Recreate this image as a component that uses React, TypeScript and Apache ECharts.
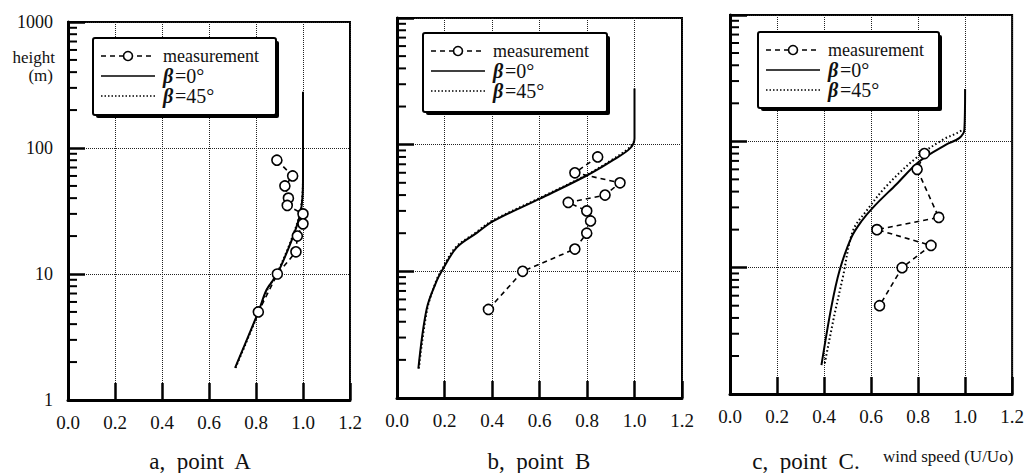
import React, { useEffect, useRef } from 'react';
import * as echarts from 'echarts';

// ---------------- data ----------------
// measured heights (m)
const heightsAB = [80, 60, 50, 40, 35, 30, 25, 20, 15, 10, 5];
const heightsC = [80, 60, 25, 20, 15, 10, 5];
// measured wind speed U/Uo
const measA = [0.889, 0.956, 0.923, 0.938, 0.933, 1.0, 1.0, 0.976, 0.97, 0.891, 0.81];
const measB = [0.845, 0.749, 0.939, 0.876, 0.721, 0.799, 0.815, 0.799, 0.749, 0.529, 0.385];
const measC = [0.827, 0.796, 0.888, 0.625, 0.855, 0.732, 0.636];

// computed profiles, beta = 0 deg
const beta0A_h = [1.8, 5, 7.5, 10, 18.6, 29.4, 41, 60, 100, 280];
const beta0A_u = [0.711, 0.81, 0.845, 0.89, 0.952, 0.987, 0.998, 1.0, 1.0, 1.0];
const beta0B_h = [1.71, 5.05, 8.4, 10, 15.4, 20.1, 24.9, 37.5, 57.1, 75.9, 93.5, 112, 277];
const beta0B_u = [0.09, 0.125, 0.167, 0.188, 0.251, 0.336, 0.405, 0.602, 0.799, 0.911, 0.981, 1.0, 1.0];
const beta0C_h = [1.69, 4.87, 9.5, 17.3, 23.4, 29.9, 45.6, 69.6, 94.2, 106, 124, 260];
const beta0C_u = [0.389, 0.431, 0.466, 0.516, 0.56, 0.608, 0.707, 0.806, 0.919, 0.975, 0.997, 1.0];

// computed profiles, beta = 45 deg
const beta45A_h = [1.8, 5, 7.5, 10, 18.6, 29.4, 41, 60, 100];
const beta45A_u = [0.713, 0.812, 0.848, 0.888, 0.95, 0.985, 0.997, 1.0, 1.0];
const beta45B_h = [1.71, 5, 8.4, 10, 15.4, 20.1, 24.9, 37.5, 57.1, 75.9, 93.5, 105];
const beta45B_u = [0.092, 0.127, 0.165, 0.185, 0.246, 0.33, 0.398, 0.595, 0.794, 0.905, 0.975, 0.995];
const beta45C_h = [1.75, 4.3, 8.4, 19.6, 28.1, 44.2, 73.9, 103, 116, 124];
const beta45C_u = [0.403, 0.445, 0.48, 0.523, 0.58, 0.665, 0.792, 0.905, 0.965, 0.99];

// axis tick values
const minorTickValues = [2, 3, 4, 5, 6, 7, 8, 9, 20, 30, 40, 50, 60, 70, 80, 90, 200, 300, 400, 500, 600, 700, 800, 900];

// texts
const legendLabels = ['measurement', 'β=0°', 'β=45°'];
const panelTitles = ['a,  point  A', 'b,  point  B', 'c,  point  C.'];
const yTitleLines = ['height', '(m)'];
const xTitle = 'wind speed (U/Uo)';

// ---------------- layout ----------------
const FONT = 'Liberation Serif';
const gridPos = [
  { left: 68, top: 22, width: 282, height: 378 },
  { left: 397, top: 18, width: 285, height: 380 },
  { left: 730, top: 15, width: 283, height: 379 },
];
const legendPos = [
  { x: 93, y: 38, w: 183, h: 77 },
  { x: 423, y: 33, w: 184, h: 79 },
  { x: 758, y: 32, w: 181, h: 76 },
];
const titleX = [200, 539, 806];

const zip = (u: number[], h: number[]) => u.map((v, i) => [v, h[i]]);

const panels = [
  { meas: zip(measA, heightsAB), b0: zip(beta0A_u, beta0A_h), b45: zip(beta45A_u, beta45A_h) },
  { meas: zip(measB, heightsAB), b0: zip(beta0B_u, beta0B_h), b45: zip(beta45B_u, beta45B_h) },
  { meas: zip(measC, heightsC), b0: zip(beta0C_u, beta0C_h), b45: zip(beta45C_u, beta45C_h) },
];

function buildOption() {
  const grid = gridPos.map((g) => ({
    ...g,
    show: true,
    borderColor: '#000',
    borderWidth: 2,
    backgroundColor: 'transparent',
  }));

  const xAxis = gridPos.map((_, i) => ({
    type: 'value',
    gridIndex: i,
    min: 0,
    max: 1.2,
    interval: 0.2,
    axisLine: { show: true, onZero: false, lineStyle: { color: '#000', width: 3 } },
    axisTick: { show: true, inside: true, length: 17, lineStyle: { color: '#000', width: 2.5 } },
    axisLabel: {
      formatter: (v: number) => v.toFixed(1),
      fontFamily: FONT,
      fontSize: 19,
      color: '#111',
      margin: 13,
      showMinLabel: true,
      showMaxLabel: true,
    },
    splitLine: { show: true, lineStyle: { color: '#222', type: 'dotted', width: 1 } },
  }));

  const yAxis = gridPos.map((_, i) => ({
    type: 'log',
    logBase: 10,
    gridIndex: i,
    min: 1,
    max: 1000,
    axisLine: { show: true, onZero: false, lineStyle: { color: '#000', width: 3 } },
    axisTick: { show: true, inside: true, length: 17, lineStyle: { color: '#000', width: 2.5 } },
    axisLabel: {
      show: i === 0,
      formatter: (v: number) => String(Math.round(v)),
      fontFamily: FONT,
      fontSize: 18,
      color: '#111',
      margin: 15,
    },
    splitLine: { show: true, lineStyle: { color: '#222', type: 'dotted', width: 1 } },
  }));

  const series: any[] = [];
  panels.forEach((p, i) => {
    series.push({
      type: 'custom',
      name: 'minorTicks' + i,
      xAxisIndex: i,
      yAxisIndex: i,
      silent: true,
      clip: false,
      data: minorTickValues.map((v) => [0, v]),
      encode: { x: 0, y: 1 },
      renderItem: (params: any, api: any) => {
        const pt = api.coord([api.value(0), api.value(1)]);
        return {
          type: 'line',
          shape: { x1: pt[0], y1: pt[1], x2: pt[0] + 9, y2: pt[1] },
          style: { stroke: '#000', lineWidth: 2 },
        };
      },
      z: 3,
    });
    series.push({
      type: 'line',
      name: 'β=45°',
      xAxisIndex: i,
      yAxisIndex: i,
      data: p.b45,
      symbol: 'none',
      smooth: 0.35,
      lineStyle: { color: '#000', width: 2, type: [1.5, 2.5] },
      z: 3,
    });
    series.push({
      type: 'line',
      name: 'β=0°',
      xAxisIndex: i,
      yAxisIndex: i,
      data: p.b0,
      symbol: 'none',
      smooth: 0.35,
      lineStyle: { color: '#000', width: 2 },
      z: 4,
    });
    series.push({
      type: 'line',
      name: 'measurement',
      xAxisIndex: i,
      yAxisIndex: i,
      data: p.meas,
      symbol: 'circle',
      symbolSize: 10,
      itemStyle: { color: '#fff', borderColor: '#000', borderWidth: 1.6 },
      lineStyle: { color: '#000', width: 1.6, type: [5, 4] },
      z: 5,
    });
  });

  const graphic: any[] = [];
  // legends
  legendPos.forEach((L) => {
    graphic.push({
      type: 'rect', z: 100,
      shape: { x: L.x + 3, y: L.y + 3, width: L.w, height: L.h, r: 2 },
      style: { fill: '#000' },
    });
    graphic.push({
      type: 'rect', z: 101,
      shape: { x: L.x, y: L.y, width: L.w, height: L.h, r: 2 },
      style: { fill: '#fff', stroke: '#000', lineWidth: 2 },
    });
    const rows = [L.y + 18, L.y + 38, L.y + 58];
    const x1 = L.x + 8;
    const x2 = L.x + 62;
    graphic.push({
      type: 'line', z: 102,
      shape: { x1, y1: rows[0], x2, y2: rows[0] },
      style: { stroke: '#000', lineWidth: 1.6, lineDash: [5, 4] },
    });
    graphic.push({
      type: 'circle', z: 103,
      shape: { cx: (x1 + x2) / 2, cy: rows[0], r: 4.5 },
      style: { fill: '#fff', stroke: '#000', lineWidth: 1.6 },
    });
    graphic.push({
      type: 'line', z: 102,
      shape: { x1, y1: rows[1], x2, y2: rows[1] },
      style: { stroke: '#000', lineWidth: 1.6 },
    });
    graphic.push({
      type: 'line', z: 102,
      shape: { x1, y1: rows[2], x2, y2: rows[2] },
      style: { stroke: '#000', lineWidth: 1.6, lineDash: [1.5, 2] },
    });
    legendLabels.forEach((t, k) => {
      if (k === 0) {
        graphic.push({
          type: 'text', z: 104,
          x: L.x + 70,
          y: rows[k],
          style: {
            text: t, fill: '#111', fontFamily: FONT, fontSize: 18,
            verticalAlign: 'middle', align: 'left',
          },
        });
      } else {
        graphic.push({
          type: 'text', z: 104,
          x: L.x + 70,
          y: rows[k],
          style: {
            text: t.slice(0, 1), fill: '#111', fontFamily: FONT, fontSize: 20, fontStyle: 'italic',
            fontWeight: 'bold', verticalAlign: 'middle', align: 'left',
          },
        });
        graphic.push({
          type: 'text', z: 104,
          x: L.x + 82,
          y: rows[k],
          style: {
            text: t.slice(1), fill: '#111', fontFamily: FONT, fontSize: 20,
            verticalAlign: 'middle', align: 'left',
          },
        });
      }
    });
  });

  // y title
  yTitleLines.forEach((t, k) => {
    graphic.push({
      type: 'text', z: 50,
      x: 55 - (k === 1 ? 2 : 0),
      y: 57 + k * 18,
      style: { text: t, fill: '#111', fontFamily: FONT, fontSize: 17, align: 'right', verticalAlign: 'middle' },
    });
  });

  // panel titles
  panelTitles.forEach((t, k) => {
    graphic.push({
      type: 'text', z: 50,
      x: titleX[k],
      y: 461,
      style: { text: t, fill: '#111', fontFamily: FONT, fontSize: 23, align: 'center', verticalAlign: 'middle' },
    });
  });
  graphic.push({
    type: 'text', z: 50,
    x: 883,
    y: 456,
    style: { text: xTitle, fill: '#111', fontFamily: FONT, fontSize: 17, align: 'left', verticalAlign: 'middle' },
  });

  return {
    animation: false,
    backgroundColor: '#fff',
    textStyle: { fontFamily: FONT },
    grid,
    xAxis,
    yAxis,
    series,
    graphic,
  };
}

export default function App() {
  const ref = useRef<HTMLDivElement>(null);
  useEffect(() => {
    if (!ref.current) return;
    const chart = echarts.init(ref.current, null, { renderer: 'svg' });
    chart.setOption(buildOption() as any);
    return () => {
      chart.dispose();
    };
  }, []);
  return (
    <div
      ref={ref}
      style={{ position: 'absolute', left: 0, top: 0, width: 1027, height: 473, background: '#fff' }}
    />
  );
}
